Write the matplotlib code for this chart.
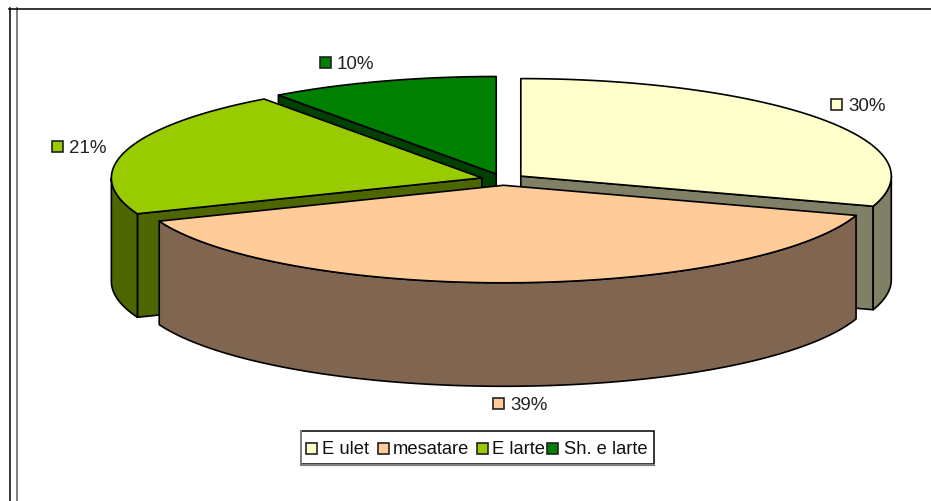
import numpy as np
from matplotlib import pyplot as plt
from matplotlib.patches import Polygon, Rectangle

plt.rcParams['font.family'] = ['Liberation Sans', 'DejaVu Sans']

# Data
categories = ['E ulet', 'mesatare', 'E larte', 'Sh. e larte']
values = [30, 39, 21, 10]
top_colors = ['#FFFFCC', '#FFCC99', '#99CC00', '#008000']
side_colors = ['#808066', '#806650', '#4D6600', '#004000']

# Pie geometry (pixels)
cx, cy = 503, 180.5
rx, ry = 370.5, 97.5
depth = 103.5
explode = 22
draw_order = [3, 2, 0, 1]

# Where the data labels and legend entries sit: swatch left, swatch top, text left
label_pos = [(831, 100, 848), (493, 399, 510), (52, 142, 69), (320, 58, 337)]
legend_pos = [(306, 444, 322), (378, 444, 393), (477, 444, 492), (547, 444, 564)]

fig = plt.figure(figsize=(9.31, 5.02), dpi=100)
ax = fig.add_axes([0, 0, 1, 1])
ax.set_xlim(0, 931)
ax.set_ylim(502, 0)
ax.axis('off')


def rim(a0, a1, ox, oy, drop=0):
    t = np.radians(np.linspace(a0, a1, 200))
    return np.column_stack([ox + rx * np.sin(t), oy - ry * np.cos(t) + drop])


def poly(pts, color, z=2):
    ax.add_patch(Polygon(pts, closed=True, facecolor=color, edgecolor='black',
                         linewidth=1.2, joinstyle='round', zorder=z))


edges = np.cumsum([0] + values) / sum(values) * 360

for i in draw_order:
    a0, a1 = edges[i], edges[i + 1]
    mid = np.radians((a0 + a1) / 2)
    ox = cx + explode * np.sin(mid)
    oy = cy - explode * ry / rx * np.cos(mid)

    # flat cut faces: start edge shows on the left half, end edge on the right half
    for a, shows in ((a0, a0 >= 180), (a1, a1 <= 180)):
        if shows:
            p = rim(a, a, ox, oy)[0]
            poly([(ox, oy), p, p + (0, depth), (ox, oy + depth)], side_colors[i])

    # outer wall, only the front half of the ellipse shows
    w0, w1 = max(a0, 90), min(a1, 270)
    if w1 > w0:
        poly(np.vstack([rim(w0, w1, ox, oy), rim(w1, w0, ox, oy, depth)]), side_colors[i])

    # top
    poly(np.vstack([[(ox, oy)], rim(a0, a1, ox, oy)]), top_colors[i])

# data labels
for v, c, (sx, sy, tx) in zip(values, top_colors, label_pos):
    ax.add_patch(Rectangle((sx, sy), 11, 10.5, facecolor=c, edgecolor='#222222', linewidth=1.2, zorder=4))
    ax.text(tx, sy + 6.5, f'{v}%', fontsize=13.5, color='#222222', va='center', ha='left', zorder=4)

# legend
ax.add_patch(Rectangle((301, 432), 353, 33, facecolor='white', edgecolor='black', linewidth=1.1, zorder=3))
ax.plot([301, 301], [432, 465], color='#808080', lw=1.4, zorder=3)
ax.plot([301, 654], [465.5, 465.5], color='#808080', lw=1.6, zorder=3)
for name, c, (sx, sy, tx) in zip(categories, top_colors, legend_pos):
    ax.add_patch(Rectangle((sx, sy), 11, 10.5, facecolor=c, edgecolor='#222222', linewidth=1.2, zorder=4))
    ax.text(tx, sy + 6, name, fontsize=13.2, color='#111111', va='center', ha='left', zorder=4)

# page frame lines
ax.plot([9.5, 9.5], [9, 502], color='black', lw=1.1)
ax.plot([17, 17], [9, 502], color='#808080', lw=1.4)
ax.plot([9, 931], [9.5, 9.5], color='black', lw=1.1)

fig.savefig('out.png', dpi=100)
